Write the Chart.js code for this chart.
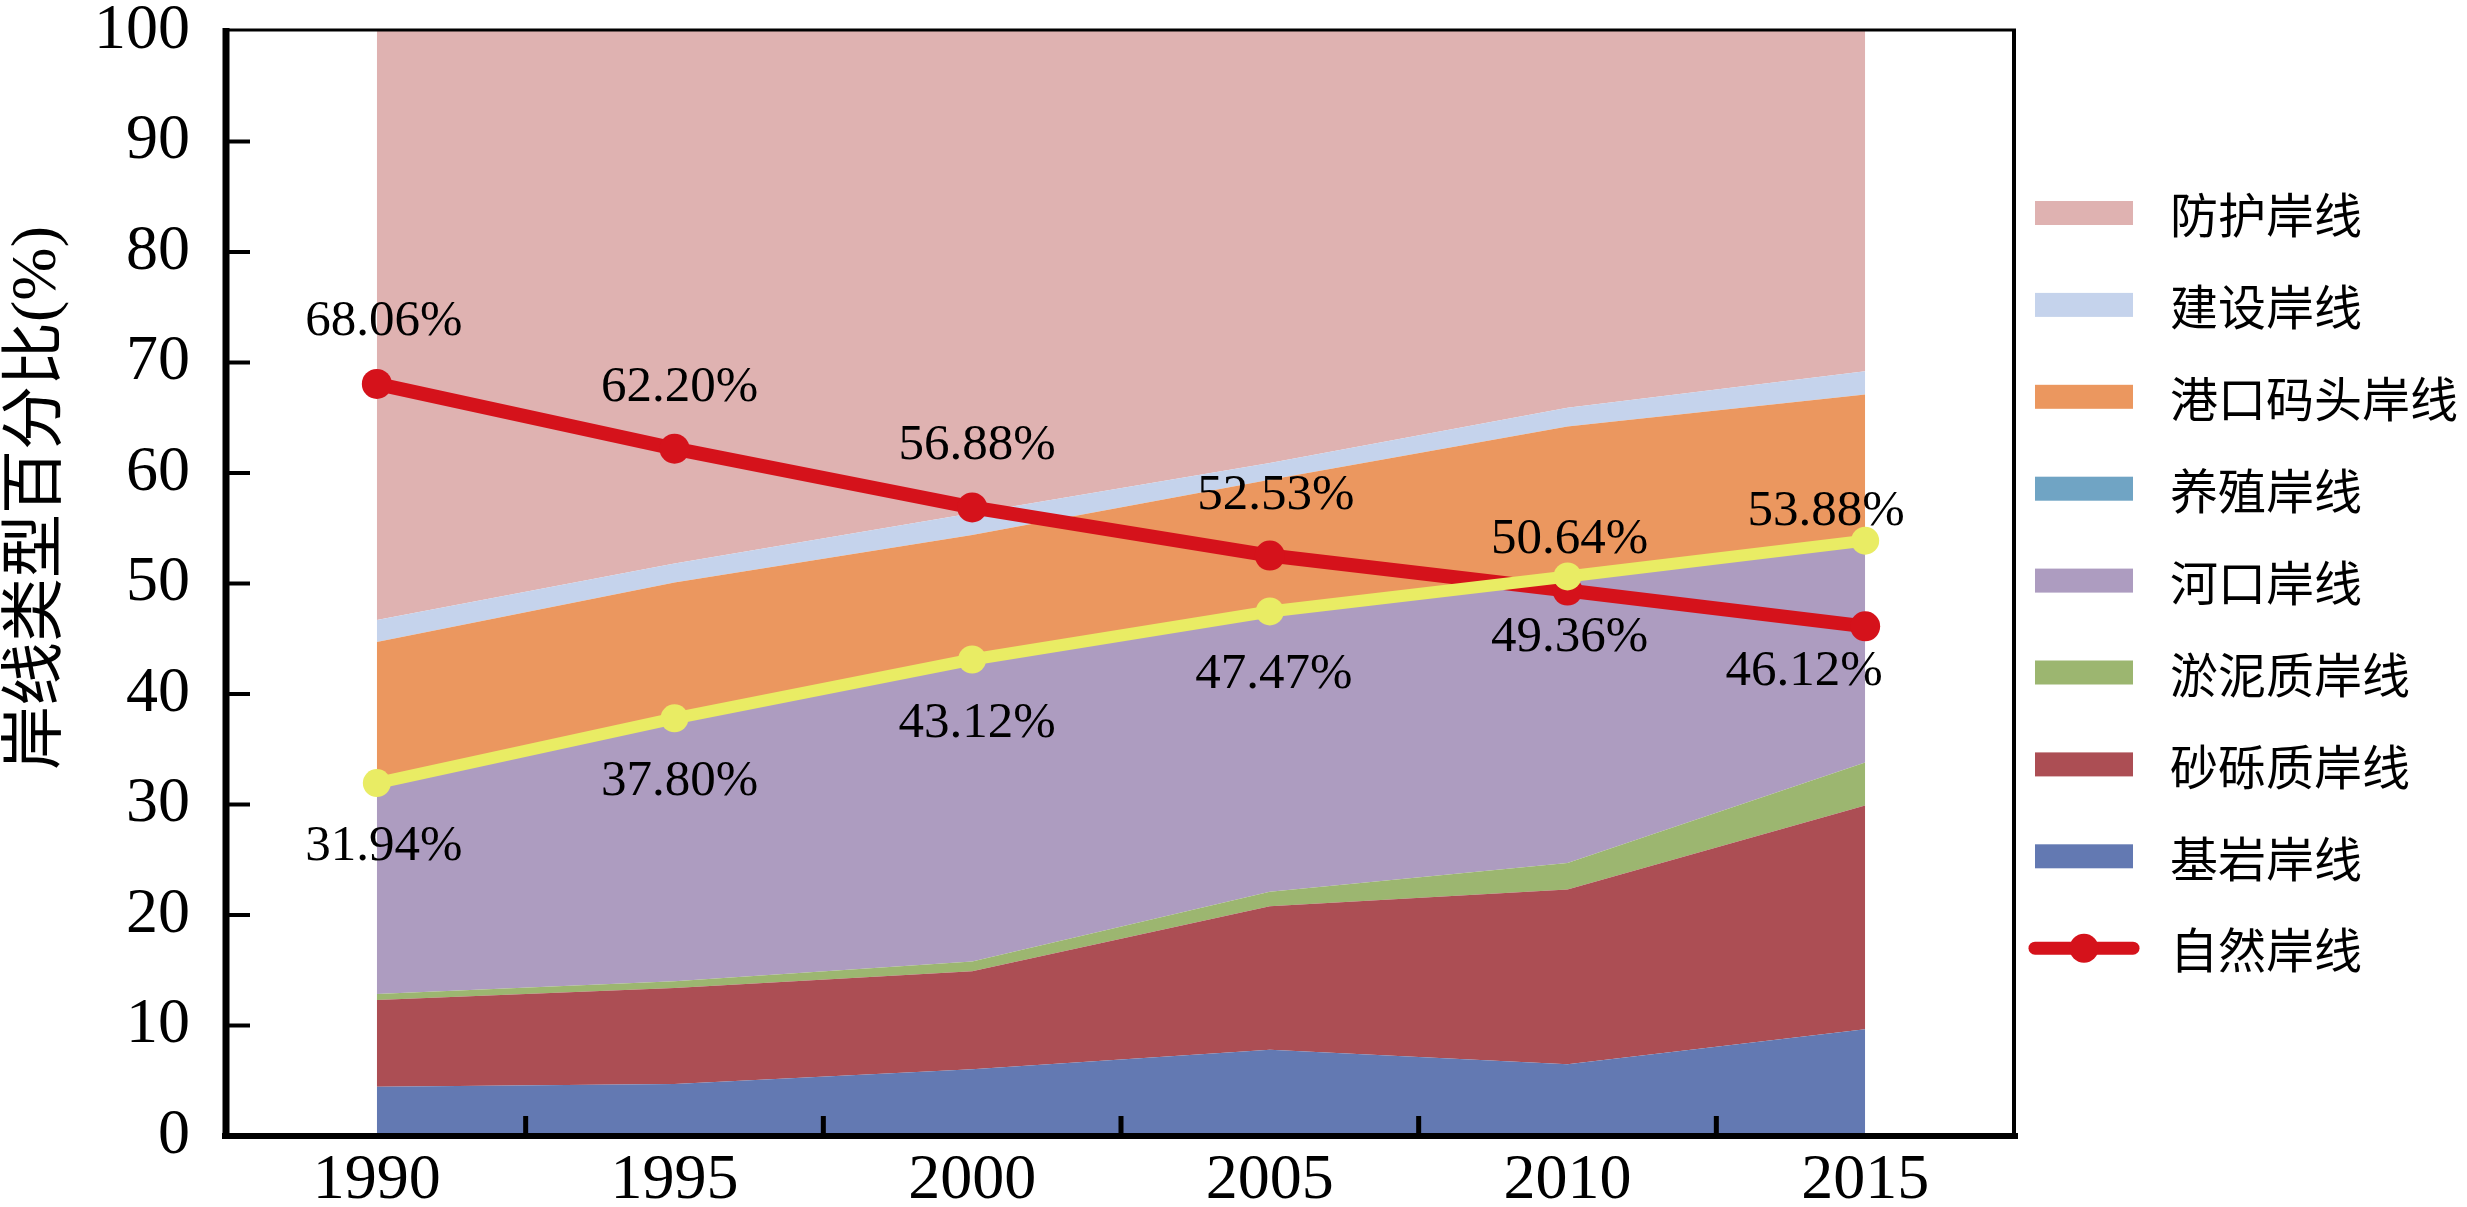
<!DOCTYPE html>
<html>
<head>
<meta charset="utf-8">
<script src="https://cdn.jsdelivr.net/npm/chart.js@4.4.1/dist/chart.umd.min.js"></script>
<style>
  html, body { margin: 0; padding: 0; background: #fff; overflow: hidden; }
  canvas { display: block; }
</style>
</head>
<body>
<canvas id="chart" width="2467" height="1207"></canvas>
<script>
// categories
const years = ['1990', '1995', '2000', '2005', '2010', '2015'];

// stacked shoreline shares (%), bottom to top
const bedrock      = [4.46, 4.70, 6.04, 7.80, 6.50, 9.66];        // 基岩岸线
const gravel       = [7.84, 8.70, 8.86, 13.00, 15.80, 20.24];     // 砂砾质岸线
const mud          = [0.55, 0.60, 0.90, 1.30, 2.40, 3.90];        // 淤泥质岸线
const estuary      = [19.09, 23.80, 27.32, 25.37, 25.94, 20.08];  // 河口岸线
const aquaculture  = [0.20, 0.20, 0.20, 0.20, 0.20, 0.20];        // 养殖岸线
const port         = [12.56, 12.10, 11.08, 11.73, 13.36, 13.02];  // 港口码头岸线
const construction = [2.00, 1.70, 1.95, 1.50, 1.70, 2.10];        // 建设岸线
const protection   = [53.30, 48.20, 43.65, 39.10, 34.10, 30.80];  // 防护岸线

// line series (%)
const natural    = [68.06, 62.20, 56.88, 52.53, 49.36, 46.12];    // 自然岸线
const artificial = [31.94, 37.80, 43.12, 47.47, 50.64, 53.88];

// y axis ticks
const yMin = 0, yMax = 100, yStep = 10;

const NUM_FONT = "'Liberation Serif', 'Times New Roman', serif";
const CJK_FONT = "'Noto Sans CJK SC', sans-serif";

function area(label, data, color, fill) {
  return {
    type: 'line', label: label, data: data,
    backgroundColor: color, borderColor: color, borderWidth: 0,
    pointRadius: 0, pointHoverRadius: 0, fill: fill, tension: 0,
    stack: 'shore', order: 2
  };
}

const datasets = [
  area('基岩岸线', bedrock, 'rgb(99,121,178)', 'origin'),
  area('砂砾质岸线', gravel, 'rgb(172,78,84)', '-1'),
  area('淤泥质岸线', mud, 'rgb(156,182,112)', '-1'),
  area('河口岸线', estuary, 'rgb(173,156,192)', '-1'),
  area('养殖岸线', aquaculture, 'rgb(112,164,196)', '-1'),
  area('港口码头岸线', port, 'rgb(235,151,95)', '-1'),
  area('建设岸线', construction, 'rgb(197,211,236)', '-1'),
  area('防护岸线', protection, 'rgb(223,178,177)', '-1'),
  {
    type: 'line', label: '自然岸线', data: natural,
    borderColor: 'rgb(213,18,27)', backgroundColor: 'rgb(213,18,27)',
    borderWidth: 14, pointRadius: 15, pointBorderWidth: 0,
    pointBackgroundColor: 'rgb(213,18,27)', fill: false, tension: 0,
    stack: 'natural', order: 1
  },
  {
    type: 'line', label: 'artificial', data: artificial,
    borderColor: 'rgb(233,236,100)', backgroundColor: 'rgb(233,236,100)',
    borderWidth: 12, pointRadius: 14, pointBorderWidth: 0,
    pointBackgroundColor: 'rgb(233,236,100)', fill: false, tension: 0,
    stack: 'artificial', order: 0
  }
];

// label offsets from the point (dx, dy), per series
const naturalOffsets = [[7, -62], [5, -61], [5, -62], [6, -60], [2, 47], [-61, 45]];
const artificialOffsets = [[7, 64], [5, 63], [5, 64], [4, 63], [2, -37], [-39, -29]];

const decor = {
  id: 'decor',
  afterDatasetsDraw(chart) {
    const ctx = chart.ctx;
    const xs = chart.scales.x, ys = chart.scales.y;
    const a = chart.chartArea;
    ctx.save();

    // value labels
    ctx.fillStyle = '#000';
    ctx.font = '51px ' + NUM_FONT;
    ctx.textAlign = 'center';
    ctx.textBaseline = 'middle';
    [[8, naturalOffsets], [9, artificialOffsets]].forEach(([idx, offs]) => {
      const meta = chart.getDatasetMeta(idx);
      const vals = chart.data.datasets[idx].data;
      meta.data.forEach((pt, i) => {
        ctx.fillText(vals[i].toFixed(2) + '%', pt.x + offs[i][0], pt.y + offs[i][1]);
      });
    });

    // frame
    ctx.strokeStyle = '#000';
    ctx.lineCap = 'butt';
    ctx.lineWidth = 3;
    ctx.beginPath(); ctx.moveTo(a.left - 4, a.top - 1); ctx.lineTo(a.right + 2, a.top - 1); ctx.stroke();
    ctx.lineWidth = 4;
    ctx.beginPath(); ctx.moveTo(a.right, a.top - 2); ctx.lineTo(a.right, a.bottom + 3); ctx.stroke();
    ctx.lineWidth = 7;
    ctx.beginPath(); ctx.moveTo(a.left - 2, a.top - 3); ctx.lineTo(a.left - 2, a.bottom + 3); ctx.stroke();
    ctx.lineWidth = 6;
    ctx.beginPath(); ctx.moveTo(a.left - 6, a.bottom); ctx.lineTo(a.right + 4, a.bottom); ctx.stroke();

    // inward tick marks
    ctx.lineWidth = 4;
    for (let v = yMin + yStep; v < yMax; v += yStep) {
      const y = ys.getPixelForValue(v);
      ctx.beginPath(); ctx.moveTo(a.left, y); ctx.lineTo(a.left + 22, y); ctx.stroke();
    }
    ctx.lineWidth = 5;
    for (let i = 0; i < years.length - 1; i++) {
      const x = (xs.getPixelForValue(i) + xs.getPixelForValue(i + 1)) / 2;
      ctx.beginPath(); ctx.moveTo(x, a.bottom); ctx.lineTo(x, a.bottom - 20); ctx.stroke();
    }

    // y axis title
    ctx.save();
    ctx.translate(38, 498);
    ctx.rotate(-Math.PI / 2);
    ctx.font = '64px ' + NUM_FONT + ", 'Noto Sans CJK SC'";
    ctx.textAlign = 'center';
    ctx.textBaseline = 'middle';
    ctx.fillText('岸线类型百分比(%)', 0, 0);
    ctx.restore();

    // legend (top to bottom: reverse of stacking, then the natural line)
    const order = [7, 6, 5, 4, 3, 2, 1, 0, 8];
    ctx.font = '48px ' + CJK_FONT;
    ctx.textAlign = 'left';
    ctx.textBaseline = 'middle';
    order.forEach((idx, row) => {
      const ds = chart.data.datasets[idx];
      const cy = 213 + row * 91.9;
      if (idx === 8) {
        ctx.strokeStyle = ds.borderColor;
        ctx.lineWidth = 13;
        ctx.lineCap = 'round';
        ctx.beginPath(); ctx.moveTo(2035, cy); ctx.lineTo(2133, cy); ctx.stroke();
        ctx.fillStyle = ds.borderColor;
        ctx.beginPath(); ctx.arc(2084, cy, 14.5, 0, Math.PI * 2); ctx.fill();
      } else {
        ctx.fillStyle = ds.backgroundColor;
        ctx.fillRect(2035, cy - 12, 98, 24);
      }
      ctx.fillStyle = '#000';
      ctx.fillText(ds.label, 2170, cy + 2);
    });
    ctx.restore();
  }
};

new Chart(document.getElementById('chart'), {
  data: { labels: years, datasets: datasets },
  options: {
    responsive: false,
    devicePixelRatio: 1,
    animation: false,
    layout: { padding: { top: 31, right: 453, bottom: 0, left: 0 } },
    plugins: { legend: { display: false }, tooltip: { enabled: false } },
    scales: {
      x: {
        type: 'category',
        offset: true,
        grid: { display: false, drawTicks: false },
        border: { display: false },
        ticks: {
          color: '#000', padding: 7, maxRotation: 0,
          font: { family: NUM_FONT, size: 64 }
        },
        afterFit(scale) {
          scale.height = 71;
          scale.paddingLeft = 0; scale.paddingRight = 0;
        }
      },
      y: {
        stacked: true,
        min: yMin, max: yMax,
        grid: { display: false, drawTicks: false },
        border: { display: false },
        ticks: {
          stepSize: yStep, color: '#000', padding: 38,
          font: { family: NUM_FONT, size: 64 }
        },
        afterFit(scale) {
          scale.width = 228;
          scale.paddingTop = 0; scale.paddingBottom = 0;
        }
      }
    }
  },
  plugins: [decor]
});
</script>
</body>
</html>
